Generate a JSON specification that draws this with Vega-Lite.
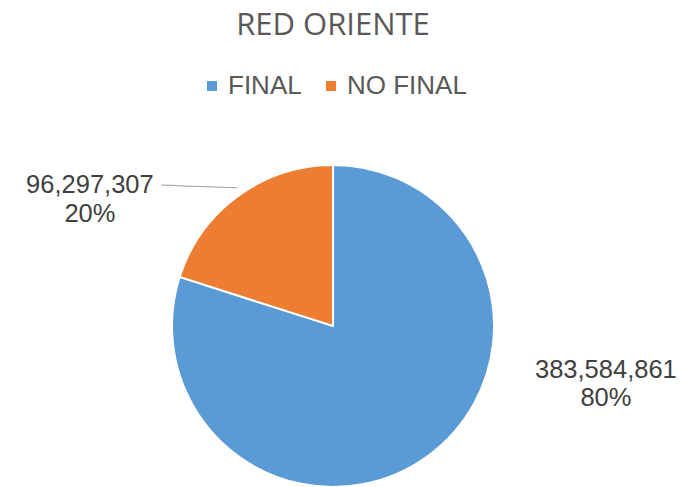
{
  "$schema": "https://vega.github.io/schema/vega-lite/v6.json",
  "autosize": "none",
  "width": 666,
  "height": 320,
  "padding": {"left": 0, "top": 166, "right": 23, "bottom": 1},
  "background": "white",
  "title": {
    "text": "RED ORIENTE",
    "font": "Open Sans",
    "fontSize": 31,
    "fontWeight": "normal",
    "color": "#595959",
    "anchor": "middle",
    "offset": 31
  },
  "data": {
    "values": [
      {"category": "FINAL", "value": 383584861},
      {"category": "NO FINAL", "value": 96297307}
    ]
  },
  "transform": [
    {"joinaggregate": [{"op": "sum", "field": "value", "as": "total"}]},
    {"calculate": "datum.value / datum.total", "as": "pct"}
  ],
  "encoding": {
    "theta": {"field": "value", "type": "quantitative", "stack": true},
    "order": {"field": "category", "sort": "ascending"}
  },
  "layer": [
    {
      "mark": {"type": "arc", "outerRadius": 161, "stroke": "white", "strokeWidth": 2},
      "encoding": {
        "color": {
          "field": "category",
          "type": "nominal",
          "scale": {"domain": ["FINAL", "NO FINAL"], "range": ["#5B9BD5", "#ED7D31"]},
          "legend": {
            "orient": "none",
            "legendX": 199,
            "legendY": -93,
            "direction": "horizontal",
            "title": null,
            "symbolType": "square",
            "symbolSize": 100,
            "symbolStrokeWidth": 0,
            "labelFont": "Liberation Sans",
            "labelFontSize": 26,
            "labelColor": "#595959",
            "labelOffset": 3,
            "columnPadding": 16,
            "symbolOffset": 0
          }
        }
      }
    },
    {
      "transform": [{"filter": "datum.category == 'FINAL'"}],
      "mark": {"type": "text", "radius": 200, "dx": 155, "dy": -118, "font": "Liberation Sans", "fontSize": 25.5, "color": "#404040", "align": "center", "baseline": "middle"},
      "encoding": {"text": {"field": "value", "type": "quantitative", "format": ","}}
    },
    {
      "transform": [{"filter": "datum.category == 'FINAL'"}],
      "mark": {"type": "text", "radius": 200, "dx": 155, "dy": -90, "font": "Liberation Sans", "fontSize": 25.5, "color": "#404040", "align": "center", "baseline": "middle"},
      "encoding": {"text": {"field": "pct", "type": "quantitative", "format": ".0%"}}
    },
    {
      "transform": [{"filter": "datum.category == 'NO FINAL'"}],
      "mark": {"type": "text", "radius": 200, "dx": -361, "dy": 21, "font": "Liberation Sans", "fontSize": 25.5, "color": "#404040", "align": "center", "baseline": "middle"},
      "encoding": {"text": {"field": "value", "type": "quantitative", "format": ","}}
    },
    {
      "transform": [{"filter": "datum.category == 'NO FINAL'"}],
      "mark": {"type": "text", "radius": 200, "dx": -361, "dy": 50, "font": "Liberation Sans", "fontSize": 25.5, "color": "#404040", "align": "center", "baseline": "middle"},
      "encoding": {"text": {"field": "pct", "type": "quantitative", "format": ".0%"}}
    },
    {
      "transform": [{"filter": "datum.category == 'NO FINAL'"}],
      "mark": {"type": "text", "radius": 200, "dx": -251, "dy": 31, "angle": 2, "font": "DejaVu Sans Mono", "fontSize": 12.5, "color": "#A6A6A6", "align": "center", "baseline": "middle", "text": "──────────"},
      "encoding": {}
    }
  ],
  "config": {"view": {"stroke": null}}
}
